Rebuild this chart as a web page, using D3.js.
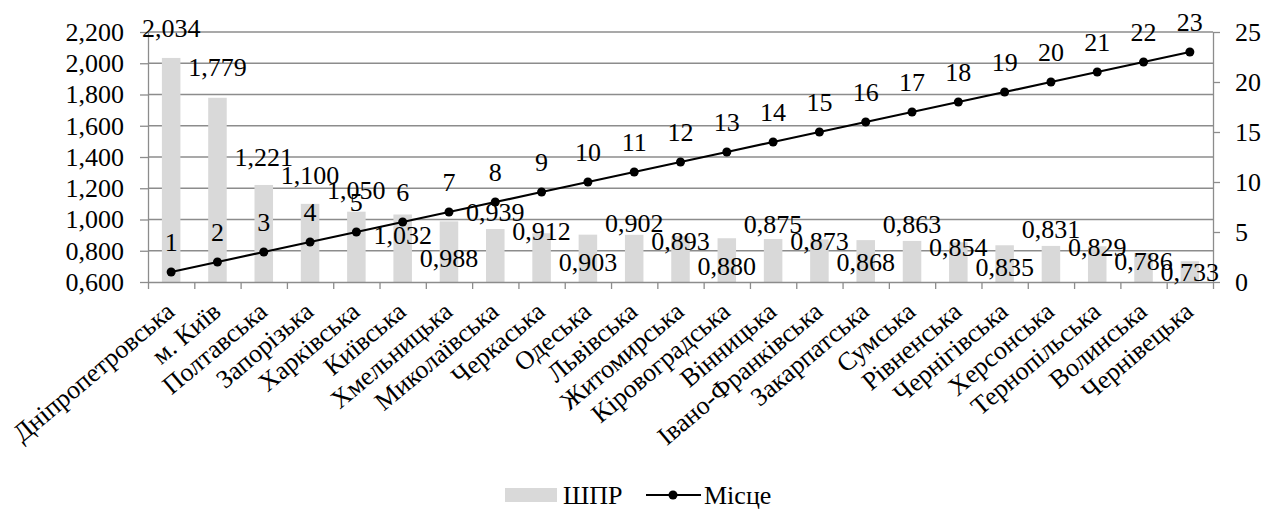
<!DOCTYPE html>
<html>
<head>
<meta charset="utf-8">
<script src="https://cdn.jsdelivr.net/npm/d3@7"></script>
<style>
  body { margin: 0; background: #fff; }
</style>
</head>
<body>
<div id="viz"></div>
<script>
// regions, ordered by rank
const regions = ["Дніпропетровська", "м. Київ", "Полтавська", "Запорізька", "Харківська",
  "Київська", "Хмельницька", "Миколаївська", "Черкаська", "Одеська", "Львівська",
  "Житомирська", "Кіровоградська", "Вінницька", "Івано-Франківська", "Закарпатська",
  "Сумська", "Рівненська", "Чернігівська", "Херсонська", "Тернопільська", "Волинська",
  "Чернівецька"];
const shpr = [2.034, 1.779, 1.221, 1.100, 1.050, 1.032, 0.988, 0.939, 0.912, 0.903, 0.902,
  0.893, 0.880, 0.875, 0.873, 0.868, 0.863, 0.854, 0.835, 0.831, 0.829, 0.786, 0.733];
const rank = [1, 2, 3, 4, 5, 6, 7, 8, 9, 10, 11, 12, 13, 14, 15, 16, 17, 18, 19, 20, 21, 22, 23];
const leftTicks = [0.6, 0.8, 1.0, 1.2, 1.4, 1.6, 1.8, 2.0, 2.2];
const rightTicks = [0, 5, 10, 15, 20, 25];
const seriesNames = ["ШПР", "Місце"];

// bar labels were shifted by hand in the original (px from bar top to label centre)
const barLabelDy = [-30, -31, -28, -29, -22, 20, 37, -17, -2, 27, -12, 5, 28, -15, 2, 22, -17, 5, 22, -17, 1, 8, 11];

const W = 1265, H = 511;
const pLeft = 148, pRight = 1213, pTop = 32, pBottom = 282;
const gridCol = "#8c8c8c", barCol = "#d9d9d9";
const fontFam = "'Liberation Serif', 'Times New Roman', serif";
const fontSize = 26;

const loc = d3.formatLocale({ decimal: ",", thousands: " ", grouping: [3], currency: ["", ""] });
const f3 = loc.format(".3f");

const svg = d3.select("#viz").append("svg")
  .attr("width", W).attr("height", H);

const x = d3.scaleBand().domain(regions).range([pLeft, pRight]).paddingInner(0.6).paddingOuter(0.3);
const xEdge = d3.scaleLinear().domain([0, regions.length]).range([pLeft, pRight]);
const yL = d3.scaleLinear().domain([0.6, 2.2]).range([pBottom, pTop]);
const yR = d3.scaleLinear().domain([0, 25]).range([pBottom, pTop]);
const cx = d => x(d) + x.bandwidth() / 2;

// gridlines
svg.append("g")
  .selectAll("line").data(leftTicks.slice(1)).join("line")
  .attr("x1", pLeft).attr("x2", pRight)
  .attr("y1", d => yL(d)).attr("y2", d => yL(d))
  .attr("stroke", gridCol).attr("stroke-width", 1.3);

// bars
svg.append("g")
  .selectAll("rect").data(regions).join("rect")
  .attr("x", d => x(d))
  .attr("width", x.bandwidth())
  .attr("y", (d, i) => yL(shpr[i]))
  .attr("height", (d, i) => pBottom - yL(shpr[i]))
  .attr("fill", barCol);

// axes
const gL = svg.append("g").attr("transform", `translate(${pLeft},0)`)
  .call(d3.axisLeft(yL).tickValues(leftTicks).tickFormat(f3).tickSize(8).tickSizeOuter(0).tickPadding(16));
const gR = svg.append("g").attr("transform", `translate(${pRight},0)`)
  .call(d3.axisRight(yR).tickValues(rightTicks).tickSize(7).tickSizeOuter(0).tickPadding(15));
const gB = svg.append("g").attr("transform", `translate(0,${pBottom})`)
  .call(d3.axisBottom(xEdge).tickValues(d3.range(regions.length + 1)).tickFormat("").tickSize(7).tickSizeOuter(0));
[gL, gR, gB].forEach(g => {
  g.attr("font-family", null).attr("font-size", null);
  g.selectAll("path, line").attr("stroke", gridCol).attr("stroke-width", 1.3);
});

// category labels
svg.append("g")
  .selectAll("text").data(regions).join("text")
  .attr("text-anchor", "end")
  .attr("transform", d => `translate(${cx(d) + 5},${pBottom + 32}) rotate(-40)`)
  .text(d => d);

// line
const line = d3.line().x(d => cx(d)).y((d, i) => yR(rank[i]));
svg.append("path")
  .datum(regions)
  .attr("fill", "none").attr("stroke", "#000").attr("stroke-width", 2.2)
  .attr("d", line);
svg.append("g")
  .selectAll("circle").data(regions).join("circle")
  .attr("cx", d => cx(d)).attr("cy", (d, i) => yR(rank[i]))
  .attr("r", 4.5).attr("fill", "#000");

// line labels
svg.append("g")
  .selectAll("text").data(regions).join("text")
  .attr("text-anchor", "middle").attr("dy", "0.35em")
  .attr("x", d => cx(d)).attr("y", (d, i) => yR(rank[i]) - 30)
  .text((d, i) => rank[i]);

// bar labels
svg.append("g")
  .selectAll("text").data(regions).join("text")
  .attr("text-anchor", "middle").attr("dy", "0.35em")
  .attr("x", d => cx(d)).attr("y", (d, i) => yL(shpr[i]) + barLabelDy[i])
  .text((d, i) => f3(shpr[i]));

// legend
const lg = svg.append("g").attr("transform", "translate(0,495)");
lg.append("rect").attr("x", 505).attr("y", -7).attr("width", 52).attr("height", 14).attr("fill", barCol);
lg.append("text").attr("x", 563).attr("dy", "0.35em").text(seriesNames[0]);
lg.append("line").attr("x1", 646).attr("x2", 701).attr("stroke", "#000").attr("stroke-width", 2.2);
lg.append("circle").attr("cx", 673).attr("r", 4.5).attr("fill", "#000");
lg.append("text").attr("x", 704).attr("dy", "0.35em").text(seriesNames[1]);

// every text: Times-like font set on the element itself
svg.selectAll("text")
  .attr("font-family", fontFam)
  .attr("font-size", fontSize)
  .style("font-family", fontFam)
  .style("font-size", fontSize + "px")
  .attr("fill", "#000");
</script>
</body>
</html>
